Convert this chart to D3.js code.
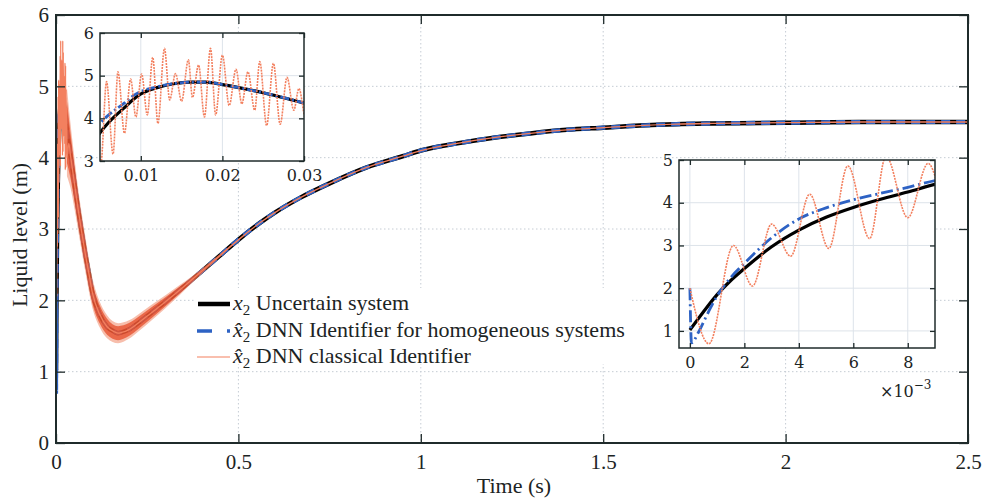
<!DOCTYPE html>
<html>
<head>
<meta charset="utf-8">
<script src="https://cdn.jsdelivr.net/npm/d3@7"></script>
<style>
body { margin: 0; background: #fff; }
text { font-family: "Liberation Serif", "DejaVu Serif", serif; }
text.alt, .alt text { font-family: "DejaVu Serif", serif; }
</style>
</head>
<body>
<svg id="chart" width="986" height="502"></svg>
<script>
// x2, uncertain system (black)
var x2Time = [0, 0.0005, 0.001, 0.0015, 0.002, 0.003, 0.004, 0.005, 0.006, 0.007,
  0.008, 0.009, 0.010, 0.012, 0.014, 0.016, 0.018, 0.020, 0.022, 0.025,
  0.028, 0.030, 0.035, 0.04, 0.05, 0.06, 0.07, 0.08, 0.09, 0.10,
  0.12, 0.14, 0.16, 0.17, 0.18, 0.20, 0.23, 0.26, 0.30, 0.35,
  0.40, 0.45, 0.50, 0.56, 0.60, 0.67, 0.75, 0.85, 0.95, 1.0,
  1.1, 1.2, 1.3, 1.4, 1.5, 1.6, 1.7, 1.8, 2.0, 2.2, 2.5];
var x2Value = [1.02, 1.45, 1.85, 2.18, 2.46, 2.97, 3.36, 3.66, 3.89, 4.08,
  4.25, 4.43, 4.57, 4.72, 4.81, 4.85, 4.85, 4.79, 4.72, 4.60,
  4.46, 4.36, 4.20, 4.02, 3.66, 3.30, 2.97, 2.66, 2.38, 2.10,
  1.80, 1.63, 1.56, 1.54, 1.55, 1.59, 1.70, 1.82, 1.98, 2.19,
  2.41, 2.63, 2.85, 3.09, 3.23, 3.44, 3.64, 3.86, 4.02, 4.10,
  4.20, 4.28, 4.34, 4.39, 4.42, 4.45, 4.47, 4.48, 4.49, 4.50, 4.50];

// DNN identifier for homogeneous systems (blue), start only; after 0.012 s it sits on x2
var homTime = [0, 0.00006, 0.0003, 0.0006, 0.001, 0.0015, 0.002, 0.003, 0.004, 0.005,
  0.006, 0.007, 0.008, 0.009, 0.010, 0.012];
var homValue = [2.0, 0.72, 0.95, 1.34, 1.82, 2.25, 2.58, 3.18, 3.62, 3.88,
  4.07, 4.22, 4.36, 4.52, 4.63, 4.74];

// DNN classical identifier (orange), peaks and troughs of the oscillation up to 0.03 s
var clsTime = [0, 0.0007, 0.0016, 0.0023, 0.0030, 0.0037, 0.0044, 0.0051, 0.0058, 0.0066,
  0.0072, 0.0080, 0.00875, 0.0094, 0.0101, 0.0108, 0.01146, 0.0121, 0.0129, 0.01354,
  0.01425, 0.0150, 0.01583, 0.01633, 0.01708, 0.0178, 0.01854, 0.01917, 0.0200, 0.02083,
  0.02167, 0.02238, 0.02313, 0.02396, 0.02458, 0.02542, 0.02625, 0.02708, 0.02792, 0.02875,
  0.02938, 0.0302];
var clsValue = [2.0, 0.7, 3.0, 2.05, 3.5, 2.75, 4.2, 2.93, 4.86, 3.16,
  5.09, 3.65, 4.92, 4.03, 5.04, 4.08, 5.43, 3.88, 5.64, 4.43,
  5.05, 4.40, 5.37, 4.49, 5.25, 4.03, 5.64, 4.08, 5.48, 4.30,
  5.15, 4.34, 5.09, 4.19, 5.33, 3.83, 5.29, 3.86, 4.96, 4.19,
  4.70, 4.00];
// half amplitude of the (unresolved) fast oscillation after 0.03 s
var envTime = [0.03, 0.04, 0.05, 0.06, 0.08, 0.10, 0.12, 0.14, 0.17, 0.20,
  0.23, 0.26, 0.30, 0.34, 0.37, 0.42, 0.48, 0.55];
var envAmp = [0.62, 0.45, 0.36, 0.30, 0.25, 0.21, 0.18, 0.16, 0.14, 0.13,
  0.12, 0.11, 0.09, 0.07, 0.05, 0.03, 0.015, 0];

var mainXTicks = [0, 0.5, 1, 1.5, 2, 2.5];
var mainYTicks = [0, 1, 2, 3, 4, 5, 6];
var zoomAXTicks = [0.01, 0.02, 0.03];
var zoomAYTicks = [3, 4, 5, 6];
var zoomBXTicks = [0, 0.002, 0.004, 0.006, 0.008];
var zoomBYTicks = [1, 2, 3, 4, 5];

var legendLabels = [" Uncertain system", " DNN Identifier for homogeneous systems", " DNN classical Identifier"];

var colBlack = "#000000", colBlue = "#2d62c4", colOrange = "#f3805f", colFrame = "#1f2b2b";

var svg = d3.select("#chart");

function pts(t, v) { return t.map(function(d, i) { return [d, v[i]]; }); }
var x2Pts = pts(x2Time, x2Value);
var homPts = pts(homTime, homValue).concat(x2Pts.filter(function(p) { return p[0] > 0.012; }));
var clsPts = pts(clsTime, clsValue).concat(x2Pts.filter(function(p) { return p[0] > 0.0302; }));
var x2At = d3.scaleLinear().domain(x2Time).range(x2Value);

var clipN = 0;
function panel(o) {
  var g = svg.append("g").attr("class", o.cls);
  var x = o.x, y = o.y;
  var x0 = x.range()[0], x1 = x.range()[1], y0 = y.range()[1], y1 = y.range()[0];
  if (o.bg) g.append("rect").attr("x", x0).attr("y", y0).attr("width", x1 - x0).attr("height", y1 - y0).attr("fill", "#fff");

  // grid
  var grid = g.append("g").attr("stroke", o.gridColor).attr("stroke-width", 1).attr("stroke-dasharray", o.gridDash);
  grid.selectAll(".gx").data(o.xTicks.filter(function(d) { return x(d) > x0 + 1 && x(d) < x1 - 1; }))
    .enter().append("line").attr("x1", x).attr("x2", x).attr("y1", y0).attr("y2", y1);
  grid.selectAll(".gy").data(o.yTicks.filter(function(d) { return y(d) > y0 + 1 && y(d) < y1 - 1; }))
    .enter().append("line").attr("y1", y).attr("y2", y).attr("x1", x0).attr("x2", x1);

  var id = "clip" + (clipN++);
  g.append("clipPath").attr("id", id).append("rect")
    .attr("x", x0).attr("y", y0).attr("width", x1 - x0).attr("height", y1 - y0);
  var lines = g.append("g").attr("clip-path", "url(#" + id + ")");
  var line = d3.line().x(function(d) { return x(d[0]); }).y(function(d) { return y(d[1]); }).curve(d3.curveMonotoneX);

  lines.append("path").datum(x2Pts).attr("d", line).attr("fill", "none")
    .attr("stroke", colBlack).attr("stroke-width", o.lw);
  lines.append("path").datum(homPts).attr("d", line).attr("fill", "none")
    .attr("stroke", colBlue).attr("stroke-width", o.blw).attr("stroke-dasharray", o.blueDash);
  if (o.band) {
    var env = envTime.map(function(t, i) { return [t, envAmp[i]]; });
    var area = d3.area().x(function(d) { return x(d[0]); })
      .y0(function(d) { return y(x2At(d[0]) - d[1]); })
      .y1(function(d) { return y(x2At(d[0]) + d[1]); }).curve(d3.curveMonotoneX);
    lines.append("path").datum(env).attr("d", area).attr("fill", "#f29274").attr("opacity", 0.6);
    var inner = d3.area().x(function(d) { return x(d[0]); })
      .y0(function(d) { return y(x2At(d[0]) - d[1] * 0.7); })
      .y1(function(d) { return y(x2At(d[0]) + d[1] * 0.7); }).curve(d3.curveMonotoneX);
    lines.append("path").datum(env).attr("d", inner).attr("fill", "#e4431f").attr("opacity", 0.7);
  }
  lines.append("path").datum(clsPts).attr("d", line).attr("fill", "none")
    .attr("stroke", colOrange).attr("stroke-width", o.olw).attr("stroke-dasharray", o.orangeDash);

  // axes with ticks pointing inwards
  function style(a) {
    a.attr("font-family", null).attr("font-size", null);
    a.select(".domain").remove();
    a.selectAll(".tick line").attr("stroke", colFrame).attr("stroke-width", 1.3);
    a.selectAll("text").style("font-size", o.fs + "px").attr("fill", "#1c2424");
  }
  g.append("g").attr("transform", "translate(0," + y1 + ")")
    .call(d3.axisBottom(x).tickValues(o.xTicks).tickFormat(o.xFmt).tickSizeInner(-o.tick).tickSizeOuter(0).tickPadding(o.padX)).call(style);
  g.append("g").attr("transform", "translate(0," + y0 + ")")
    .call(d3.axisTop(x).tickValues(o.xTicks).tickFormat("").tickSizeInner(-o.tick).tickSizeOuter(0)).call(style);
  g.append("g").attr("transform", "translate(" + x0 + ",0)")
    .call(d3.axisLeft(y).tickValues(o.yTicks).tickFormat(d3.format("d")).tickSizeInner(-o.tick).tickSizeOuter(0).tickPadding(o.padY)).call(style);
  g.append("g").attr("transform", "translate(" + x1 + ",0)")
    .call(d3.axisRight(y).tickValues(o.yTicks).tickFormat("").tickSizeInner(-o.tick).tickSizeOuter(0)).call(style);

  g.append("rect").attr("x", x0).attr("y", y0).attr("width", x1 - x0).attr("height", y1 - y0)
    .attr("fill", "none").attr("stroke", colFrame).attr("stroke-width", o.frameW);
  return g;
}

// main axes
var xMain = d3.scaleLinear().domain([0, 2.5]).range([56, 968]);
var yMain = d3.scaleLinear().domain([0, 6]).range([443, 15]);
panel({x: xMain, y: yMain, xTicks: mainXTicks, yTicks: mainYTicks, xFmt: d3.format(""), cls: "main",
  tick: 9, padX: 11, padY: 7, fs: 21, lw: 4.5, blw: 4.2, olw: 1.3, blueDash: "9,6", orangeDash: null,
  gridColor: "#c5ccd4", gridDash: "1.5,2.5", frameW: 2, band: true, bg: false});

svg.append("text").attr("x", 514).attr("y", 493).attr("text-anchor", "middle")
  .style("font-size", "22px").attr("fill", "#1c2424").text("Time (s)");
svg.append("text").attr("transform", "translate(27,235) rotate(-90)").attr("text-anchor", "middle")
  .style("font-size", "22px").attr("fill", "#1c2424").text("Liquid level (m)");

// legend
var lg = svg.append("g");
lg.append("rect").attr("x", 194).attr("y", 288).attr("width", 438).attr("height", 76).attr("fill", "#fff");
var rowY = [304, 331, 357];
lg.append("line").attr("x1", 198).attr("x2", 230).attr("y1", rowY[0]).attr("y2", rowY[0])
  .attr("stroke", colBlack).attr("stroke-width", 4.5);
lg.append("line").attr("x1", 197).attr("x2", 230).attr("y1", rowY[1]).attr("y2", rowY[1])
  .attr("stroke", colBlue).attr("stroke-width", 3.5).attr("stroke-dasharray", "15,15,3,20");
lg.append("line").attr("x1", 197).attr("x2", 230).attr("y1", rowY[2]).attr("y2", rowY[2])
  .attr("stroke", colOrange).attr("stroke-width", 1.2);
legendLabels.forEach(function(lab, i) {
  var t = lg.append("text").attr("x", 233).attr("y", rowY[i] + 6)
    .style("font-size", "22px").attr("fill", "#1c2424");
  t.append("tspan").attr("font-style", "italic").text(i === 0 ? "x" : "x\u0302");
  t.append("tspan").style("font-size", "15px").attr("dy", 5).text("2");
  t.append("tspan").attr("dy", -5).text(lab);
});

// inset A: peak of the response
var xA = d3.scaleLinear().domain([0.005, 0.03]).range([100, 304]);
var yA = d3.scaleLinear().domain([3, 6]).range([161, 33]);
panel({x: xA, y: yA, xTicks: zoomAXTicks, yTicks: zoomAYTicks, xFmt: d3.format(".2f"), cls: "alt",
  tick: 5, padX: 9, padY: 6, fs: 16, lw: 3.2, blw: 2.8, olw: 1.6, blueDash: "9,3,2,3", orangeDash: "2,1",
  gridColor: "#dde3ea", gridDash: null, frameW: 1.5, band: false, bg: true});

// inset B: first 9 ms
var xB = d3.scaleLinear().domain([-0.0004, 0.009]).range([679, 935]);
var yB = d3.scaleLinear().domain([0.6, 5]).range([348, 160]);
panel({x: xB, y: yB, xTicks: zoomBXTicks, yTicks: zoomBYTicks, xFmt: function(d) { return Math.round(d * 1000); }, cls: "alt",
  tick: 5, padX: 9, padY: 6, fs: 16, lw: 3.2, blw: 2.8, olw: 1.6, blueDash: "12,4,2,4", orangeDash: "2,1",
  gridColor: "#dde3ea", gridDash: null, frameW: 1.5, band: false, bg: true});

var ex = svg.append("text").attr("class", "alt").attr("x", 880).attr("y", 397)
  .style("font-size", "16px").attr("fill", "#1c2424");
ex.append("tspan").text("\u00d710");
ex.append("tspan").style("font-size", "12px").attr("dy", -8).text("\u22123");
</script>
</body>
</html>
